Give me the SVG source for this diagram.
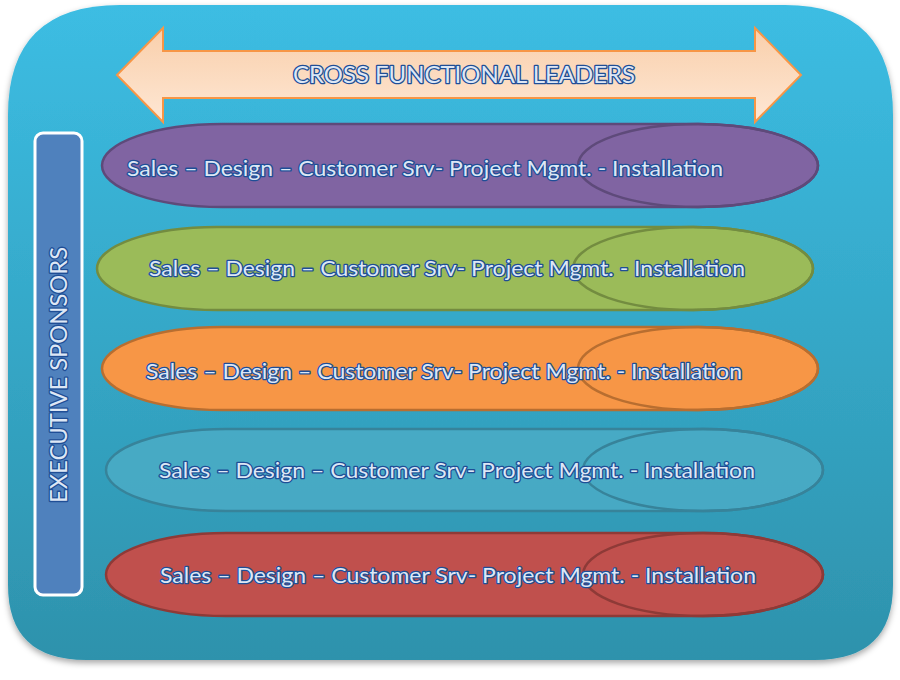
<svg xmlns="http://www.w3.org/2000/svg" width="900" height="680" viewBox="0 0 900 680">
<defs>
<linearGradient id="bg" x1="0" y1="0" x2="0" y2="1"><stop offset="0" stop-color="#3CBDE3"/><stop offset="1" stop-color="#2E92AC"/></linearGradient>
<linearGradient id="arrowG" x1="0" y1="0" x2="0" y2="1"><stop offset="0" stop-color="#F9CFAB"/><stop offset="1" stop-color="#FEE7D4"/></linearGradient>
<filter id="sh" x="-5%" y="-5%" width="110%" height="115%"><feDropShadow dx="0" dy="3" stdDeviation="3" flood-color="#000" flood-opacity="0.35"/></filter>
<style>
.lbl{font-family:Lato,"Open Sans","Liberation Sans",sans-serif;fill:#DDE7F5;stroke:#1F4E96;stroke-width:2.6;paint-order:stroke;stroke-linejoin:round;}
.pill{stroke-width:2.5;}
.ov{fill:none;stroke-width:2.5;}
</style>
</defs>
<rect width="900" height="680" fill="#FFFFFF"/>
<g id="frame">
<path d="M 120 5 L 785 5 Q 893 5 893 115 L 893 585 Q 893 660 815 660 L 86 660 Q 8 660 8 585 L 8 115 Q 8 5 120 5 Z" fill="url(#bg)" filter="url(#sh)"/>
</g>
<g id="arrow">
<path d="M 117 75 L 163 28 L 163 51 L 755 51 L 755 28 L 801 75 L 755 122 L 755 98 L 163 98 L 163 122 Z" fill="url(#arrowG)" stroke="#F79646" stroke-width="2" stroke-linejoin="miter"/>
<text class="lbl" x="464" y="83" font-size="23" text-anchor="middle" textLength="342" lengthAdjust="spacingAndGlyphs">CROSS FUNCTIONAL LEADERS</text>
</g>
<g id="sponsors">
<rect x="35" y="133" width="47" height="462" rx="8" fill="#4F81BD" stroke="#FFFFFF" stroke-width="3"/>
<text class="lbl" transform="translate(67,375) rotate(-90)" x="0" y="0" font-size="23" text-anchor="middle" textLength="256" lengthAdjust="spacingAndGlyphs">EXECUTIVE SPONSORS</text>
</g>
<g id="row-purple">
<rect class="pill" x="102" y="124" width="716" height="83" rx="120" ry="41.5" fill="#8064A2" stroke="#5E4A7A"/>
<ellipse class="ov" cx="698" cy="165.5" rx="120" ry="41.5" stroke="#5E4A7A"/>
<text class="lbl" x="425" y="176" font-size="22" text-anchor="middle" textLength="596" lengthAdjust="spacingAndGlyphs">Sales – Design – Customer Srv- Project Mgmt. - Installation</text>
</g>
<g id="row-green">
<rect class="pill" x="97" y="227" width="716" height="83" rx="120" ry="41.5" fill="#9BBB59" stroke="#738C40"/>
<ellipse class="ov" cx="693" cy="268.5" rx="120" ry="41.5" stroke="#738C40"/>
<text class="lbl" x="447" y="276" font-size="22" text-anchor="middle" textLength="596" lengthAdjust="spacingAndGlyphs">Sales – Design – Customer Srv- Project Mgmt. - Installation</text>
</g>
<g id="row-orange">
<rect class="pill" x="102" y="327" width="716" height="83" rx="120" ry="41.5" fill="#F79646" stroke="#B86E30"/>
<ellipse class="ov" cx="698" cy="368.5" rx="120" ry="41.5" stroke="#B86E30"/>
<text class="lbl" x="444" y="379" font-size="22" text-anchor="middle" textLength="596" lengthAdjust="spacingAndGlyphs">Sales – Design – Customer Srv- Project Mgmt. - Installation</text>
</g>
<g id="row-blue">
<rect class="pill" x="106" y="429" width="717" height="82" rx="120" ry="41" fill="#4BACC6" fill-opacity="0.85" stroke="#37839A"/>
<ellipse class="ov" cx="703" cy="470" rx="120" ry="41" stroke="#37839A"/>
<text class="lbl" x="457" y="478" font-size="22" text-anchor="middle" textLength="596" lengthAdjust="spacingAndGlyphs">Sales – Design – Customer Srv- Project Mgmt. - Installation</text>
</g>
<g id="row-red">
<rect class="pill" x="106" y="533" width="717" height="83" rx="120" ry="41.5" fill="#C0504D" stroke="#8E3A37"/>
<ellipse class="ov" cx="703" cy="574.5" rx="120" ry="41.5" stroke="#8E3A37"/>
<text class="lbl" x="458" y="583" font-size="22" text-anchor="middle" textLength="596" lengthAdjust="spacingAndGlyphs">Sales – Design – Customer Srv- Project Mgmt. - Installation</text>
</g>
</svg>
